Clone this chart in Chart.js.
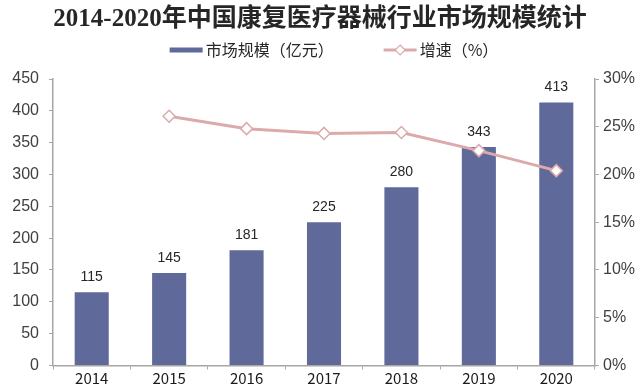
<!DOCTYPE html>
<html>
<head>
<meta charset="utf-8">
<script src="https://cdn.jsdelivr.net/npm/chart.js@4.4.0/dist/chart.umd.min.js"></script>
<style>
html, body { margin: 0; padding: 0; background: #fff; }
#wrap { width: 640px; height: 385px; }
</style>
</head>
<body>
<div id="wrap"><canvas id="chart"></canvas></div>
<script>
const years = ['2014', '2015', '2016', '2017', '2018', '2019', '2020'];
const marketSize = [115, 145, 181, 225, 280, 343, 413];
const growthRate = [null, 26.1, 24.8, 24.3, 24.4, 22.5, 20.4];
const sizeTicks = [0, 50, 100, 150, 200, 250, 300, 350, 400, 450];
const rateTicks = [0, 5, 10, 15, 20, 25, 30];

const barColor = '#5f6a9b';
const lineColor = '#dcaaaa';
const axisColor = '#a6a6a6';

// value labels above the bars
const barLabels = {
    id: 'barLabels',
    afterDatasetsDraw: (chart) => {
        const { ctx } = chart
        const meta = chart.getDatasetMeta(0)
        ctx.save()
        ctx.font = '14px "Liberation Sans", Arial, sans-serif'
        ctx.fillStyle = '#262626'
        ctx.textAlign = 'center'
        ctx.textBaseline = 'middle'
        meta.data.forEach((bar, i) => {
            ctx.fillText(chart.data.datasets[0].data[i], bar.x, bar.y - 15)
        })
        ctx.restore()
    }
}

// legend drawn by hand: bar swatch + line with diamond
const legendRow = {
    id: 'legendRow',
    afterDraw: (chart, args, options) => {
        const { ctx } = chart
        const y = options.y
        ctx.save()
        ctx.font = '16px "Noto Sans CJK SC", sans-serif'
        ctx.textBaseline = 'middle'
        ctx.fillStyle = '#262626'
        const sets = chart.data.datasets
        const w1 = ctx.measureText(sets[0].label).width
        const w2 = ctx.measureText(sets[1].label).width
        const swatch = 33, gap = 3, between = 50
        const total = swatch + gap + w1 + between + swatch + gap + w2
        let x = (chart.width - total) / 2 + options.shift

        ctx.fillStyle = sets[0].backgroundColor
        ctx.fillRect(x, y - 2.5, swatch, 5)
        x += swatch + gap
        ctx.fillStyle = '#262626'
        ctx.fillText(sets[0].label, x, y)
        x += w1 + between

        ctx.strokeStyle = sets[1].borderColor
        ctx.lineWidth = 3
        ctx.beginPath()
        ctx.moveTo(x, y)
        ctx.lineTo(x + swatch, y)
        ctx.stroke()
        const cx = x + swatch / 2, r = 5
        ctx.beginPath()
        ctx.moveTo(cx, y - r)
        ctx.lineTo(cx + r, y)
        ctx.lineTo(cx, y + r)
        ctx.lineTo(cx - r, y)
        ctx.closePath()
        ctx.fillStyle = '#fff'
        ctx.fill()
        ctx.lineWidth = 1.2
        ctx.stroke()
        x += swatch + gap
        ctx.fillStyle = '#262626'
        ctx.fillText(sets[1].label, x, y)
        ctx.restore()
    }
}

new Chart(document.getElementById('chart'), {
    data: {
        labels: years,
        datasets: [
            {
                type: 'bar',
                label: '市场规模（亿元）',
                data: marketSize,
                backgroundColor: barColor,
                barPercentage: 0.44,
                categoryPercentage: 1,
                yAxisID: 'y',
                order: 2
            },
            {
                type: 'line',
                label: '增速（%）',
                data: growthRate,
                borderColor: lineColor,
                borderWidth: 3,
                pointStyle: 'rectRot',
                pointRadius: 6,
                pointBackgroundColor: '#fff',
                pointBorderColor: lineColor,
                pointBorderWidth: 1.5,
                tension: 0,
                yAxisID: 'y1',
                order: 1
            }
        ]
    },
    options: {
        responsive: true,
        maintainAspectRatio: false,
        animation: false,
        layout: { padding: 0 },
        plugins: {
            legend: { display: false },
            tooltip: { enabled: false },
            title: {
                display: true,
                text: '2014-2020年中国康复医疗器械行业市场规模统计',
                color: '#262626',
                font: { family: '"Liberation Serif", "Noto Sans CJK SC", serif', size: 25, weight: 'bold' },
                padding: { top: 5, bottom: 44 }
            },
            legendRow: { y: 50, shift: 14 }
        },
        scales: {
            x: {
                grid: { display: true, drawOnChartArea: false, drawTicks: true, tickLength: 4, color: axisColor },
                border: { color: axisColor, width: 1.5 },
                ticks: { color: '#1a1a1a', padding: 0, font: { family: '"Noto Sans CJK SC", sans-serif', size: 15 } },
                afterFit: (s) => { s.height = 19 }
            },
            y: {
                position: 'left',
                min: 0,
                max: 450,
                afterBuildTicks: (s) => { s.ticks = sizeTicks.map(v => ({ value: v })) },
                grid: { drawOnChartArea: false, drawTicks: true, tickLength: 4, color: axisColor },
                border: { color: axisColor, width: 1.5 },
                ticks: { color: '#404040', padding: 10, font: { family: '"Liberation Sans", Arial, sans-serif', size: 16 } },
                afterFit: (s) => { s.width = 53 }
            },
            y1: {
                position: 'right',
                min: 0,
                max: 30,
                afterBuildTicks: (s) => { s.ticks = rateTicks.map(v => ({ value: v })) },
                grid: { drawOnChartArea: false, drawTicks: true, tickLength: 4, color: axisColor },
                border: { color: axisColor, width: 1.5 },
                ticks: { color: '#404040', padding: 4, font: { family: '"Liberation Sans", Arial, sans-serif', size: 16 }, callback: (v) => v + '%' },
                afterFit: (s) => { s.width = 45 }
            }
        }
    },
    plugins: [barLabels, legendRow]
})
</script>
</body>
</html>
